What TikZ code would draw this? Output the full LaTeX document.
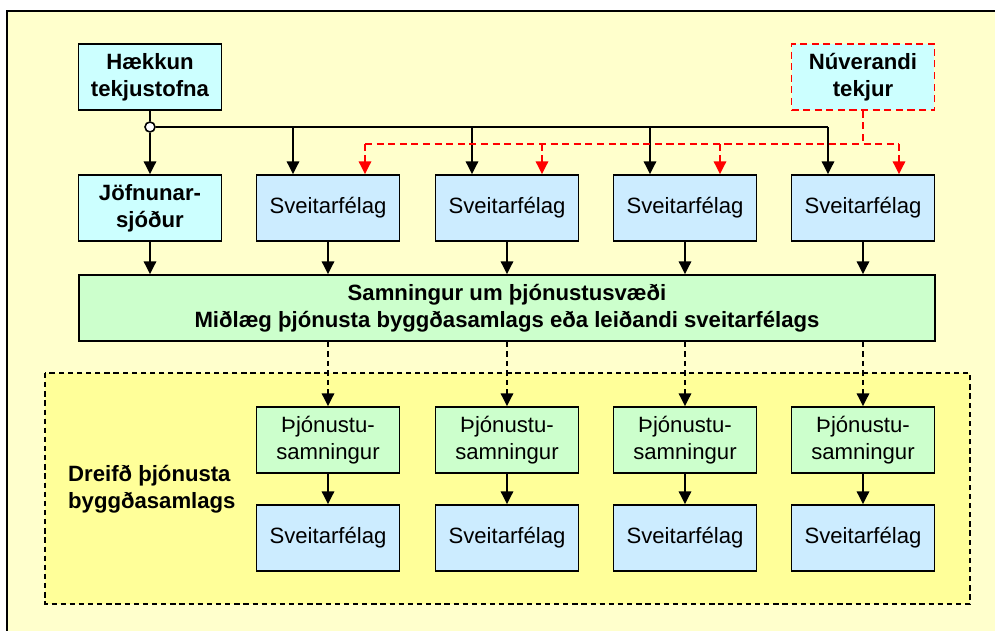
\documentclass[tikz,border=0pt]{standalone}
\usepackage{fontspec}
\setmainfont{Liberation Sans}
\usepackage{tikz}
\usetikzlibrary{arrows.meta,calc}
\definecolor{bakgrunnur}{RGB}{255,255,204}
\definecolor{dreift}{RGB}{255,255,153}
\definecolor{tekjulitur}{RGB}{204,255,255}
\definecolor{felagslitur}{RGB}{204,236,255}
\definecolor{samningslitur}{RGB}{204,255,204}

\begin{document}
\begin{tikzpicture}[x=0.02cm,y=-0.02cm,
	kassi/.style={draw,line width=1pt,minimum width=2.86cm,minimum height=1.32cm,inner sep=0pt,align=center,font=\fontsize{12.6}{15.3}\selectfont},
	tekjur/.style={kassi,fill=tekjulitur,font=\fontsize{12.6}{15.3}\selectfont\bfseries},
	felag/.style={kassi,fill=felagslitur},
	samningur/.style={kassi,fill=samningslitur},
	oddur/.style={line width=1.1pt,-{Triangle[length=7.2pt,width=7pt]}},
	rauttstrik/.style={red,line width=1.1pt,dash pattern=on 4pt off 2.6pt},
	rauttodd/.style={rauttstrik,-{Triangle[length=7.2pt,width=7pt]}},
	strikodd/.style={line width=1.1pt,dash pattern=on 3pt off 2.4pt,-{Triangle[length=7.2pt,width=7pt]}}]
			\useasboundingbox (0,0) rectangle (995,631);
			\fill[bakgrunnur] (7,11) rectangle (995,631);
			\draw[line width=1.1pt] (7,631) -- (7,11) -- (995,11);
			\draw[fill=dreift,line width=0.8pt,dash pattern=on 3pt off 2.2pt] (45,373) rectangle (970,604);
			% efsta roed
			\node[tekjur] (hk) at (150,77) {Hækkun\\tekjustofna};
			\node[tekjur,draw=red,dash pattern=on 4pt off 2.6pt] (nv) at (863,77) {Núverandi\\tekjur};
			\node[draw,circle,fill=white,line width=0.9pt,minimum size=0.2cm,inner sep=0pt] (j0) at (150,127) {};
			% sveitarfelog
			\node[tekjur] (jn) at (150,208) {Jöfnunar-\\sjóður};
			\node[felag] (sv1) at (328,208) {Sveitarfélag};
			\node[felag] (sv2) at (507,208) {Sveitarfélag};
			\node[felag] (sv3) at (685,208) {Sveitarfélag};
			\node[felag] (sv4) at (863,208) {Sveitarfélag};
			\node[samningur,minimum width=17.12cm,font=\fontsize{12.6}{15.3}\selectfont\bfseries] (samn) at (507,308) {Samningur um þjónustusvæði\\Miðlæg þjónusta byggðasamlags eða leiðandi sveitarfélags};
			% dreifd thjonusta
			\node[anchor=west,align=left,font=\fontsize{12.6}{15.3}\selectfont\bfseries] (dreif) at (62,489) {Dreifð þjónusta\\byggðasamlags};
			\node[samningur] (thj1) at (328,440) {Þjónustu-\\samningur};
			\node[samningur] (thj2) at (507,440) {Þjónustu-\\samningur};
			\node[samningur] (thj3) at (685,440) {Þjónustu-\\samningur};
			\node[samningur] (thj4) at (863,440) {Þjónustu-\\samningur};
			\node[felag] (nsv1) at (328,538) {Sveitarfélag};
			\node[felag] (nsv2) at (507,538) {Sveitarfélag};
			\node[felag] (nsv3) at (685,538) {Sveitarfélag};
			\node[felag] (nsv4) at (863,538) {Sveitarfélag};
			% nyir tekjustofnar
			\coordinate (b1) at ($(sv1.north)+(-35,0)$);
			\coordinate (b2) at ($(sv2.north)+(-35,0)$);
			\coordinate (b3) at ($(sv3.north)+(-35,0)$);
			\coordinate (b4) at ($(sv4.north)+(-35,0)$);
			\draw[line width=1.1pt] (hk) -- (j0);
			\draw[line width=1.1pt] (j0) -- (b4 |- j0);
			\draw[oddur] (j0) -- (jn);
			\draw[oddur] (b1 |- j0) -- (b1);
			\draw[oddur] (b2 |- j0) -- (b2);
			\draw[oddur] (b3 |- j0) -- (b3);
			\draw[oddur] (b4 |- j0) -- (b4);
			% nuverandi tekjur
			\coordinate (r1) at ($(sv1.north)+(37,0)$);
			\coordinate (r2) at ($(sv2.north)+(35,0)$);
			\coordinate (r3) at ($(sv3.north)+(35,0)$);
			\coordinate (r4) at ($(sv4.north)+(36,0)$);
			\coordinate (rbus) at ($(nv.south)+(0,33)$);
			\draw[rauttstrik] (nv) -- (rbus);
			\draw[rauttstrik] (r1 |- rbus) -- (r4 |- rbus);
			\draw[rauttodd] (r1 |- rbus) -- (r1);
			\draw[rauttodd] (r2 |- rbus) -- (r2);
			\draw[rauttodd] (r3 |- rbus) -- (r3);
			\draw[rauttodd] (r4 |- rbus) -- (r4);
			% i samning
			\draw[oddur] (jn) -- (jn |- samn.north);
			\draw[oddur] (sv1) -- (sv1 |- samn.north);
			\draw[oddur] (sv2) -- (sv2 |- samn.north);
			\draw[oddur] (sv3) -- (sv3 |- samn.north);
			\draw[oddur] (sv4) -- (sv4 |- samn.north);
			% thjonustusamningar
			\draw[strikodd] (thj1 |- samn.south) -- (thj1);
			\draw[strikodd] (thj2 |- samn.south) -- (thj2);
			\draw[strikodd] (thj3 |- samn.south) -- (thj3);
			\draw[strikodd] (thj4 |- samn.south) -- (thj4);
			\draw[oddur] (thj1) -- (nsv1);
			\draw[oddur] (thj2) -- (nsv2);
			\draw[oddur] (thj3) -- (nsv3);
			\draw[oddur] (thj4) -- (nsv4);
		\end{tikzpicture}
\end{document}
